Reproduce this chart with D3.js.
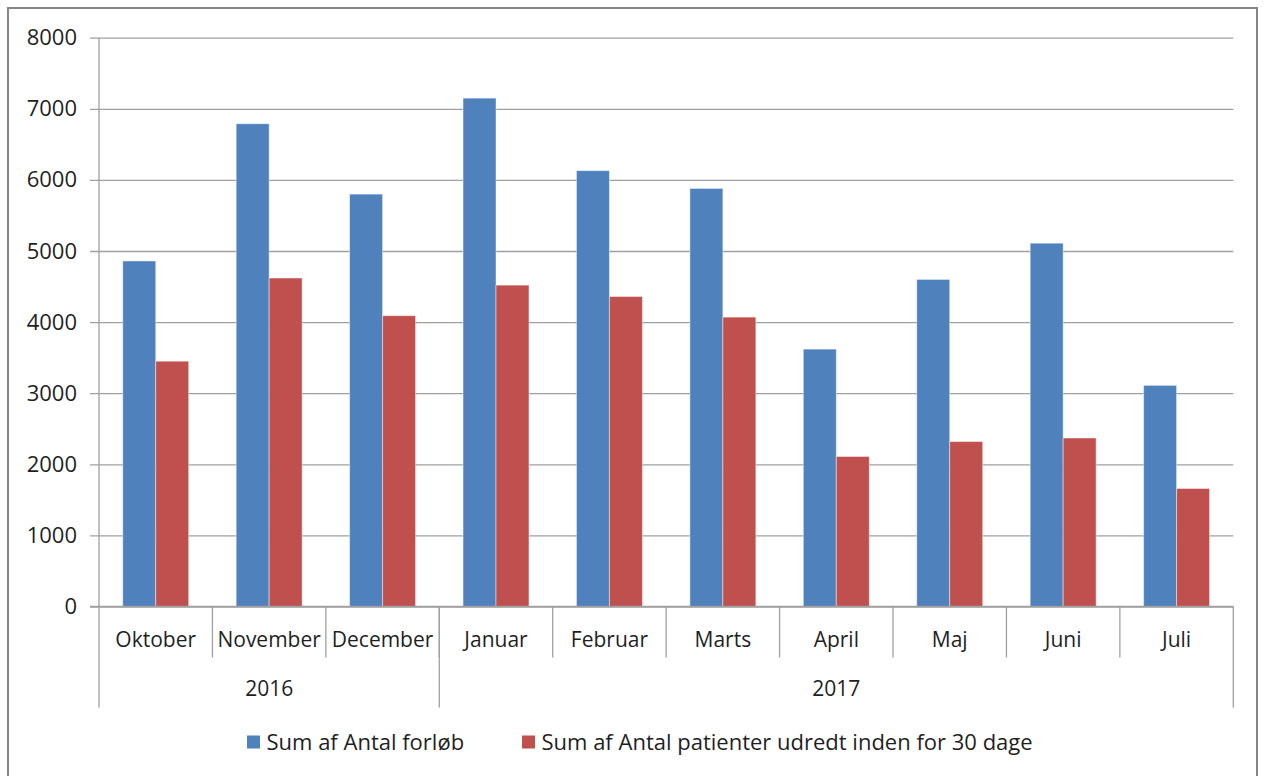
<!DOCTYPE html>
<html>
<head>
<meta charset="utf-8">
<script src="https://cdn.jsdelivr.net/npm/d3@7"></script>
<style>
    body { margin: 0; background: #fff; }
    svg text { font-family: 'Open Sans', sans-serif; fill: #1f1f1f; }
</style>
</head>
<body>
<div id="chart"></div>
<script>
const months = ['Oktober', 'November', 'December', 'Januar', 'Februar', 'Marts', 'April', 'Maj', 'Juni', 'Juli'];
const years = [
    { label: '2016', first: 'Oktober', last: 'December' },
    { label: '2017', first: 'Januar', last: 'Juli' }
];
const seriesNames = ['Sum af Antal forløb', 'Sum af Antal patienter udredt inden for 30 dage'];
const forloeb = [4860, 6790, 5800, 7150, 6130, 5880, 3620, 4600, 5110, 3110];
const udredt = [3450, 4620, 4090, 4520, 4360, 4070, 2110, 2320, 2370, 1660];
const yTicks = [0, 1000, 2000, 3000, 4000, 5000, 6000, 7000, 8000];
const colors = ['#4f81bd', '#c0504d'];

const W = 1264, H = 776;
const margins = { top: 37.7, right: 30.7, bottom: 169.5, left: 99 };
const width = W - margins.left - margins.right;
const height = H - margins.top - margins.bottom;

const svg = d3.select('#chart').append('svg')
    .attr('width', W)
    .attr('height', H);

// outer chart border
svg.append('rect')
    .attr('x', 8).attr('y', 8)
    .attr('width', 1249).attr('height', 780)
    .attr('fill', 'none')
    .attr('stroke', '#868686')
    .attr('stroke-width', 2);

const canvas = svg.append('g')
    .attr('transform', `translate(${margins.left}, ${margins.top})`);

const xScale = d3.scaleBand()
    .domain(months)
    .range([0, width]);

const xInner = d3.scaleBand()
    .domain(seriesNames)
    .range([0, xScale.bandwidth()])
    .paddingOuter(0.72);

const yScale = d3.scaleLinear()
    .domain([0, 8000])
    .range([height, 0]);

// gridlines + y ticks
const yAxis = canvas.append('g')
    .attr('class', 'y-axis')
    .call(d3.axisLeft(yScale).tickValues(yTicks).tickSize(-width - 9).tickPadding(14).tickFormat(d3.format('d')));
yAxis.select('.domain').remove();
yAxis.selectAll('.tick line')
    .attr('x1', -9)
    .attr('x2', width)
    .attr('stroke', '#a0a0a0')
    .attr('stroke-width', 1.3);
yAxis.selectAll('.tick text')
    .attr('x', -22)
    .style('font-size', '22px');

canvas.append('line')
    .attr('x1', 0).attr('x2', 0)
    .attr('y1', 0).attr('y2', height)
    .attr('stroke', '#a0a0a0')
    .attr('stroke-width', 1.3);

// bars
const rows = months.map((m, i) => ({ month: m, values: [forloeb[i], udredt[i]] }));

const groups = canvas.selectAll('g.group')
    .data(rows)
    .enter()
    .append('g')
    .attr('class', 'group')
    .attr('transform', (d) => `translate(${xScale(d.month)}, 0)`);

groups.selectAll('rect')
    .data((d) => d.values.map((v, j) => ({ name: seriesNames[j], value: v, j })))
    .enter()
    .append('rect')
    .attr('x', (d) => xInner(d.name))
    .attr('y', (d) => yScale(d.value))
    .attr('width', xInner.bandwidth())
    .attr('height', (d) => height - yScale(d.value))
    .attr('fill', (d) => colors[d.j])
    .attr('stroke', 'rgba(255,255,255,0.45)')
    .attr('stroke-width', 1);

// category axis (months)
const xAxis = canvas.append('g')
    .attr('class', 'x-axis')
    .attr('transform', `translate(0, ${height})`);

xAxis.selectAll('line.month-sep')
    .data(months.slice(1))
    .enter()
    .append('line')
    .attr('class', 'month-sep')
    .attr('x1', (d) => xScale(d))
    .attr('x2', (d) => xScale(d))
    .attr('y1', 0)
    .attr('y2', 51)
    .attr('stroke', '#a0a0a0')
    .attr('stroke-width', 1.3);

xAxis.selectAll('text.month')
    .data(months)
    .enter()
    .append('text')
    .attr('class', 'month')
    .attr('x', (d) => xScale(d) + xScale.bandwidth() / 2)
    .attr('y', 33)
    .attr('dy', '0.35em')
    .attr('text-anchor', 'middle')
    .style('font-size', '21px')
    .text((d) => d);

// year level
const yearBounds = years.map((y) => ({
    label: y.label,
    x0: xScale(y.first),
    x1: xScale(y.last) + xScale.bandwidth()
}));

const yearEdges = [0, ...yearBounds.map((b) => b.x1)];
xAxis.selectAll('line.year-sep')
    .data(yearEdges)
    .enter()
    .append('line')
    .attr('class', 'year-sep')
    .attr('x1', (d) => d)
    .attr('x2', (d) => d)
    .attr('y1', 0)
    .attr('y2', 101)
    .attr('stroke', '#a0a0a0')
    .attr('stroke-width', 1.3);

xAxis.selectAll('text.year')
    .data(yearBounds)
    .enter()
    .append('text')
    .attr('class', 'year')
    .attr('x', (d) => (d.x0 + d.x1) / 2)
    .attr('y', 82)
    .attr('dy', '0.35em')
    .attr('text-anchor', 'middle')
    .style('font-size', '21px')
    .text((d) => d.label);

xAxis.append('line')
    .attr('x1', -9).attr('x2', width)
    .attr('y1', 0).attr('y2', 0)
    .attr('stroke', '#a0a0a0')
    .attr('stroke-width', 1.3);

// legend
const legendX = [247, 522];
const legend = svg.append('g')
    .attr('class', 'legend')
    .attr('transform', 'translate(0, 742)');

const items = legend.selectAll('g')
    .data(seriesNames)
    .enter()
    .append('g')
    .attr('transform', (d, i) => `translate(${legendX[i]}, 0)`);

items.append('rect')
    .attr('x', 0).attr('y', -6.5)
    .attr('width', 13).attr('height', 13)
    .attr('fill', (d, i) => colors[i]);

items.append('text')
    .attr('x', 19.5)
    .attr('y', 0)
    .attr('dy', '0.35em')
    .style('font-size', '22px')
    .text((d) => d);
</script>
</body>
</html>
